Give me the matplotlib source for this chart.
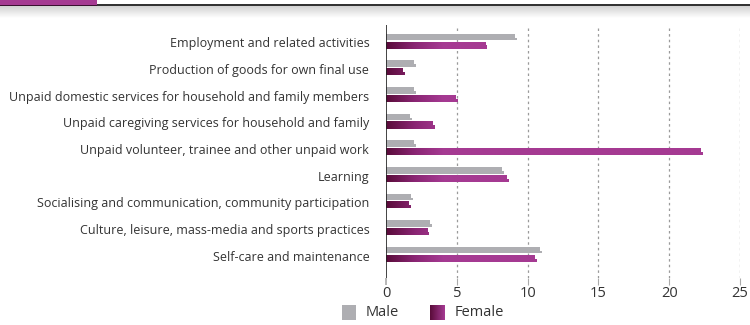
import numpy as np
import matplotlib
matplotlib.use("Agg")
import matplotlib.pyplot as plt
import matplotlib.transforms as mtransforms
from matplotlib.patches import Rectangle
from matplotlib.colors import LinearSegmentedColormap

plt.rcParams['font.family'] = ['Open Sans', 'DejaVu Sans']

categories = [
    "Employment and related activities",
    "Production of goods for own final use",
    "Unpaid domestic services for household and family members",
    "Unpaid caregiving services for household and family",
    "Unpaid volunteer, trainee and other unpaid work",
    "Learning",
    "Socialising and communication, community participation",
    "Culture, leisure, mass-media and sports practices",
    "Self-care and maintenance",
]
male = [9.1, 2.0, 2.0, 1.7, 2.0, 8.2, 1.8, 3.1, 10.9]
female = [7.0, 1.2, 4.9, 3.3, 22.2, 8.5, 1.6, 2.9, 10.5]
xticks = [0, 5, 10, 15, 20, 25]
legend_labels = ["Male", "Female"]

MALE_C = "#aeaeb2"
F_DARK = "#5a0c3a"
F_LIGHT = "#a53a92"
cmap = LinearSegmentedColormap.from_list("fem", [F_DARK, "#8a2573", F_LIGHT])

fig = plt.figure(figsize=(7.5, 3.25), dpi=100)

# header strip: magenta tab, dark rule, soft shadow
hdr = fig.add_axes([0, 0, 1, 1], zorder=-5)
hdr.axis("off")
grad = np.linspace(0, 1, 60).reshape(-1, 1)
hdr.imshow(grad, extent=[0, 750, 18, 6], cmap=LinearSegmentedColormap.from_list("sh", ["#d2d2d2", "#ffffff"]),
           aspect="auto", interpolation="bilinear")
hdr.add_patch(Rectangle((0, 4), 750, 2.2, color="#333333", lw=0))
hdr.add_patch(Rectangle((0, 0), 97, 4.5, color="#a53a92", lw=0))
hdr.add_patch(Rectangle((0, 4.5), 97, 1.7, color="#3a1030", lw=0))

ax = fig.add_axes([386 / 750, 1 - 278 / 325, (740 - 386) / 750, (278 - 25) / 325])
y = np.arange(len(categories))
h = 0.27

for i in y:
    # male bar (top) with slight step at the end
    ax.add_patch(Rectangle((0, i - h), male[i], h * 0.55, color=MALE_C, lw=0, zorder=3))
    ax.add_patch(Rectangle((0, i - h * 0.45), male[i] + 0.12, h * 0.45 - 0.02, color=MALE_C, lw=0, zorder=3))
    # female bar (bottom) with gradient fill
    for (x0, y0, w, hh) in [(0, 0.02 + i, female[i], h * 0.55), (0, i + 0.02 + h * 0.55, female[i] + 0.12, h * 0.45)]:
        r = Rectangle((x0, y0), w, hh, facecolor="none", lw=0, zorder=3)
        ax.add_patch(r)
        im = ax.imshow(np.clip(np.linspace(0, 25, 500) / 4.0, 0, 1).reshape(1, -1), cmap=cmap,
                       extent=[0, 25, y0 + hh, y0], aspect="auto", zorder=3, vmin=0, vmax=1,
                       interpolation="bilinear")
        im.set_clip_path(r)

ax.set_xlim(0, 25)
ax.set_ylim(8.9, -0.6)

for xv in xticks[1:]:
    ax.axvline(xv, color="#9a9a9a", lw=0.9, ls=(0, (2, 2.5)), zorder=1)
ax.axvline(0, color="#222222", lw=1.2, zorder=4)

for s in ax.spines.values():
    s.set_visible(False)
ax.set_yticks(y)
ax.set_yticklabels(categories, fontsize=9.0, color="#333333")
ax.tick_params(axis="y", length=0, pad=12)
shift = mtransforms.ScaledTranslation(0, -1.5 / 100, fig.dpi_scale_trans)
for lab in ax.get_yticklabels():
    lab.set_transform(lab.get_transform() + shift)
ax.set_xticks(xticks)
ax.set_xticklabels([str(v) for v in xticks], fontsize=10.5, color="#333333")
ax.tick_params(axis="x", length=5, width=0.8, color="#aaaaaa", pad=1, direction="out")
ax.xaxis.get_major_ticks()[0].tick1line.set_color("#222222")
ax.xaxis.get_major_ticks()[0].tick1line.set_markeredgewidth(1.2)
ax.patch.set_alpha(0)

# legend
hdr.add_patch(Rectangle((342, 305), 14, 15, color=MALE_C, lw=0))
hdr.text(366, 313, legend_labels[0], fontsize=10.5, color="#333333", va="center", ha="left")
hdr.imshow(np.linspace(0, 1, 50).reshape(1, -1), cmap=LinearSegmentedColormap.from_list("lg", [F_DARK, F_LIGHT]),
           extent=[430, 445, 320, 305], aspect="auto")
hdr.text(455, 313, legend_labels[1], fontsize=10.5, color="#333333", va="center", ha="left")
hdr.set_xlim(0, 750)
hdr.set_ylim(325, 0)

fig.savefig("out.png", dpi=100)
